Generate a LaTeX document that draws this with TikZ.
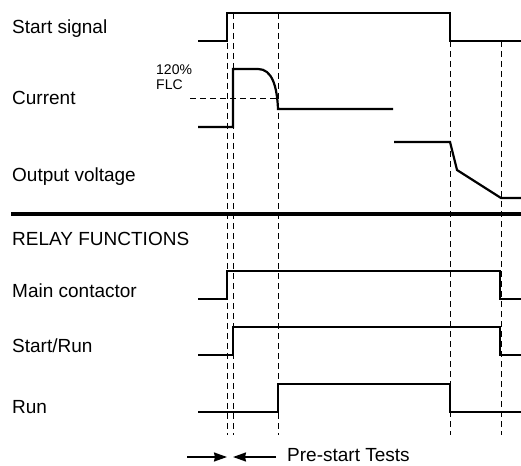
\documentclass[tikz,border=0pt]{standalone}
\usepackage{fontspec}
\setmainfont{Liberation Sans}
\usetikzlibrary{arrows.meta, positioning}
\tikzset{x=1pt,y=-1pt, >={Stealth[length=13pt,width=9pt,inset=1pt]}}

\begin{document}
\begin{tikzpicture}
% Style
[
    line join=miter,
    signal line/.style={line width=2.2pt},
    marker line/.style={line width=0.9pt, dash pattern=on 6pt off 4pt},
    split line/.style={line width=4pt},
    label text/.style={anchor=base west, inner sep=0pt, font=\fontsize{19}{22}\selectfont},
    small text/.style={anchor=base west, inner sep=0pt, align=left, font=\fontsize{14}{15}\selectfont}
]

%=================================== Start ===================================
{
    \useasboundingbox (0, 0) rectangle (521, 465);

    % Labels
    \node[label text] (start label)   at (12, 34)  {Start signal};
    \node[label text] (current label) at (12, 105) {Current};
    \node[label text] (output label)  at (12, 181) {Output voltage};
    \node[label text] (relay label)   at (12, 245) {RELAY FUNCTIONS};
    \node[label text] (main label)    at (12, 297) {Main contactor};
    \node[label text] (startrun label) at (12, 352) {Start/Run};
    \node[label text] (run label)     at (12, 413) {Run};
    \node[small text] (flc label)     at (156, 90) {120\%\\FLC};

    % Marker lines
    \foreach \x/\top in {227/13, 233/13, 278/13, 450/41, 501/41} {
        \draw[marker line] (\x, \top) -- (\x, 435);
    }
    \draw[marker line] (190, 98) -- (278, 98);

    % Separator
    \draw[split line] (11, 214) -- (521, 214);

    % Signals
    \draw[signal line] (198, 41) -- (227, 41) -- (227, 13) -- (450, 13) -- (450, 41) -- (521, 41);
    \draw[signal line] (198, 127) -- (233, 127) -- (233, 69) -- (258, 69)
        .. controls (272, 69) and (277, 86) .. (278, 109) -- (393, 109);
    \draw[signal line] (394, 142) -- (450, 142) -- (457, 170) -- (501, 198) -- (521, 198);
    \draw[signal line] (198, 299) -- (227, 299) -- (227, 271) -- (500, 271) -- (500, 299) -- (521, 299);
    \draw[signal line] (198, 355) -- (233, 355) -- (233, 327) -- (500, 327) -- (500, 355) -- (521, 355);
    \draw[signal line] (198, 412) -- (278, 412) -- (278, 384) -- (450, 384) -- (450, 412) -- (521, 412);

    % Pre-start arrows
    \coordinate (left tail)  at (187, 457);
    \coordinate (left tip)   at (227, 457);
    \coordinate (right tail) at (276, 457);
    \coordinate (right tip)  at (233, 457);
    \draw[->, line width=1.8pt] (left tail) -- (left tip);
    \draw[->, line width=1.8pt] (right tail) -- (right tip);
    \node[label text] (test label) at (287, 461) {Pre-start Tests};
}
%==================================== END ====================================

\end{tikzpicture}
\end{document}
